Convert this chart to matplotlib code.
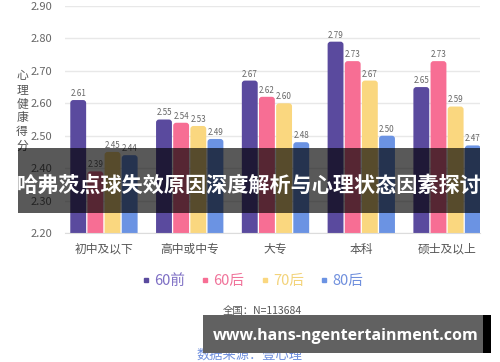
import matplotlib
matplotlib.use("Agg")
import matplotlib.pyplot as plt
import numpy as np
from matplotlib.patches import FancyBboxPatch, Rectangle
from matplotlib.lines import Line2D

plt.rcParams['font.family'] = ['Noto Sans CJK SC', 'DejaVu Sans']

categories = ['初中及以下', '高中或中专', '大专', '本科', '硕士及以上']
series_names = ['60前', '60后', '70后', '80后']
v60q = [2.61, 2.55, 2.67, 2.79, 2.65]
v60h = [2.39, 2.54, 2.62, 2.73, 2.73]
v70h = [2.45, 2.53, 2.60, 2.67, 2.59]
v80h = [2.44, 2.49, 2.48, 2.50, 2.47]
series_values = [v60q, v60h, v70h, v80h]
yticks = [2.20, 2.30, 2.40, 2.50, 2.60, 2.70, 2.80, 2.90]

bar_colors = ['#5a4a9e', '#f76e94', '#fad77f', '#6b93e3']
legend_text_colors = ['#7d6ec4', '#f0739a', '#f3d37a', '#6f8fdd']

W, H = 500, 362
fig = plt.figure(figsize=(5, 3.62), dpi=100)
ax = fig.add_axes([65 / W, 1 - 233 / H, (480 - 65) / W, (233 - 6) / H])

ax.set_xlim(-0.454, 4.384)
ax.set_ylim(2.2, 2.9)
ax.set_yticks(yticks)
ax.set_yticklabels([f'{t:.2f}' for t in yticks])
ax.yaxis.grid(True, color='#e8e8e8', linewidth=1)
ax.set_axisbelow(True)
for s in ['top', 'right', 'left']:
    ax.spines[s].set_visible(False)
ax.spines['bottom'].set_color('#dcdcdc')
ax.tick_params(axis='y', length=0, pad=9, labelsize=8, labelcolor='#666666')
ax.tick_params(axis='x', length=0, pad=7, labelsize=8.5, labelcolor='#555555')

x = np.arange(len(categories))
ax.set_xticks(x)
ax.set_xticklabels(categories)

step = 0.2
width = 0.185
base = 2.0
fig.canvas.draw()
p0 = ax.transData.transform((0, 2.2))
p1 = ax.transData.transform((1, 2.3))
xpx = p1[0] - p0[0]
ypx = (p1[1] - p0[1]) / 0.1
r_px = 3.0
for j, (vals, col) in enumerate(zip(series_values, bar_colors)):
    offs = (j - 1.5) * step
    bars = ax.bar(x + offs, [v - base for v in vals], width=width, bottom=base, color=col)
    for b, v in zip(bars, vals):
        bx, by, bw, bh = b.get_x(), b.get_y(), b.get_width(), b.get_height()
        b.remove()
        fp = FancyBboxPatch((bx, by), bw, bh,
                            boxstyle=f"round,pad=0,rounding_size={r_px / xpx}",
                            mutation_aspect=xpx / ypx,
                            facecolor=col, edgecolor='none', zorder=2)
        ax.add_patch(fp)
        ax.annotate(f'{v:.2f}', (bx + bw / 2, v), xytext=(0, 1.5), textcoords='offset points',
                    ha='center', va='bottom', fontsize=5.8, color='#666666', zorder=3)

ylabel = '心理健康得分'
for k, ch in enumerate(ylabel):
    fig.text(22 / W, 1 - (76 + 14 * k) / H, ch, ha='center', va='center', fontsize=8.5, color='#555555')

handles = [Line2D([], [], marker='s', linestyle='none', markersize=3.2, color=c) for c in bar_colors]
leg = fig.legend(handles, series_names, loc='center', bbox_to_anchor=(253 / W, 1 - 281 / H),
                 ncol=4, frameon=False, fontsize=10.5, handlelength=0.4, handletextpad=0.35,
                 columnspacing=1.2, borderaxespad=0, borderpad=0)
for t, c in zip(leg.get_texts(), legend_text_colors):
    t.set_color(c)

fig.text(262 / W, 1 - 311 / H, '全国：N=113684', ha='center', va='center', fontsize=7.5, color='#555555')
fig.text(249 / W, 1 - 355 / H, '数据来源：壹心理', ha='center', va='center', fontsize=9.5, color='#6f8fdd')

fig.patches.append(Rectangle((18 / W, 1 - 213 / H), (480 - 18) / W, (213 - 148) / H,
                             transform=fig.transFigure, facecolor='black', alpha=0.65,
                             edgecolor='none', zorder=10))
fig.text(249 / W, 1 - 185 / H, '哈弗茨点球失效原因深度解析与心理状态因素探讨', ha='center', va='center',
         fontsize=15.2, fontweight='bold', color='white', zorder=11)

fig.patches.append(Rectangle((203 / W, 1 - 353 / H), (483 - 203) / W, (353 - 315) / H,
                             transform=fig.transFigure, facecolor='#616161', edgecolor='none', zorder=10))
fig.patches.append(Rectangle((483 / W, 1 - 353 / H), (491 - 483) / W, (353 - 315) / H,
                             transform=fig.transFigure, facecolor='black', edgecolor='none', zorder=10))
fig.text(346 / W, 1 - 336 / H, 'www.hans-ngentertainment.com', ha='center', va='center',
         fontsize=11.5, fontweight='bold', color='white', family=['Open Sans', 'DejaVu Sans'], zorder=11)

fig.savefig('out.png', dpi=100, facecolor='white')
